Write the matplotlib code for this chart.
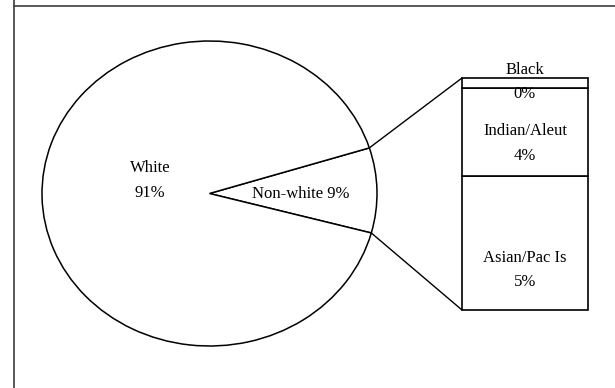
import matplotlib
matplotlib.use('Agg')
import matplotlib.pyplot as plt
from matplotlib.patches import ConnectionPatch
from matplotlib.lines import Line2D
import numpy as np

plt.rcParams['font.family'] = 'Liberation Serif'
plt.rcParams['font.size'] = 12

# pie: non-white slice is split out into the bar
pie_labels = ['Non-white', 'White']
pie_values = [9.0, 91.0]
pie_pct = ['9%', '91%']

# bar: breakdown of non-white (bottom to top)
bar_labels = ['Asian/Pac Is', 'Indian/Aleut', 'Black']
bar_values = [5.2, 3.4, 0.4]
bar_pct = ['5%', '4%', '0%']

W, H = 615, 388
fig = plt.figure(figsize=(W / 100, H / 100), dpi=100)

def px_axes(left, top, right, bottom):
    return fig.add_axes([left / W, 1 - bottom / H, (right - left) / W, (bottom - top) / H])

# outer chart frame (partially visible)
fig.add_artist(Line2D([13.5 / W, 13.5 / W], [0, 1], transform=fig.transFigure,
                      color='#3c3c3c', lw=1.2))
fig.add_artist(Line2D([13.5 / W, 1], [1 - 6 / H, 1 - 6 / H], transform=fig.transFigure,
                      color='#3c3c3c', lw=1.2))

# pie (elliptical, axes with auto aspect)
ax_pie = px_axes(42, 41, 377, 346)
start = -15.0
wedges, _ = ax_pie.pie(pie_values, startangle=start, counterclock=True,
                       wedgeprops=dict(facecolor='white', edgecolor='black', lw=1.1))
ax_pie.set_aspect('auto')
ax_pie.set_xlim(-1, 1)
ax_pie.set_ylim(-1, 1)
ax_pie.axis('off')
for w in wedges:
    w.set_clip_on(False)

ax_pie.text(-0.355, 0.085, pie_labels[1] + '\n' + pie_pct[1], ha='center', va='center',
            linespacing=1.7)
ax_pie.text(0.545, 0.0, pie_labels[0] + ' ' + pie_pct[0], ha='center', va='center')

# bar of the split slice
total = sum(bar_values)
ax_bar = px_axes(462, 78, 588, 310)
bottoms = np.concatenate([[0], np.cumsum(bar_values)[:-1]])
ax_bar.bar([0] * len(bar_values), bar_values, width=1.0, bottom=bottoms,
           color='white', edgecolor='black', lw=1.2, clip_on=False)
ax_bar.set_xlim(-0.5, 0.5)
ax_bar.set_ylim(0, total)
ax_bar.axis('off')

offsets = [-19.5, -8.3, 1.0]
for lab, pct, b, v, off in zip(bar_labels, bar_pct, bottoms, bar_values, offsets):
    ax_bar.annotate(lab + '\n' + pct, (0, b + v / 2), xytext=(0, off),
                    textcoords='offset points', ha='center', va='center',
                    linespacing=1.7, annotation_clip=False)

# connector lines from slice edges to the bar
a0 = np.deg2rad(start)
a1 = np.deg2rad(start + 360 * pie_values[0] / sum(pie_values))
for ang, yb in [(a1, total), (a0, 0)]:
    con = ConnectionPatch(xyA=(np.cos(ang), np.sin(ang)), coordsA=ax_pie.transData,
                          xyB=(-0.5, yb), coordsB=ax_bar.transData,
                          color='black', lw=1.0)
    fig.add_artist(con)

fig.savefig('out.png', dpi=100)
